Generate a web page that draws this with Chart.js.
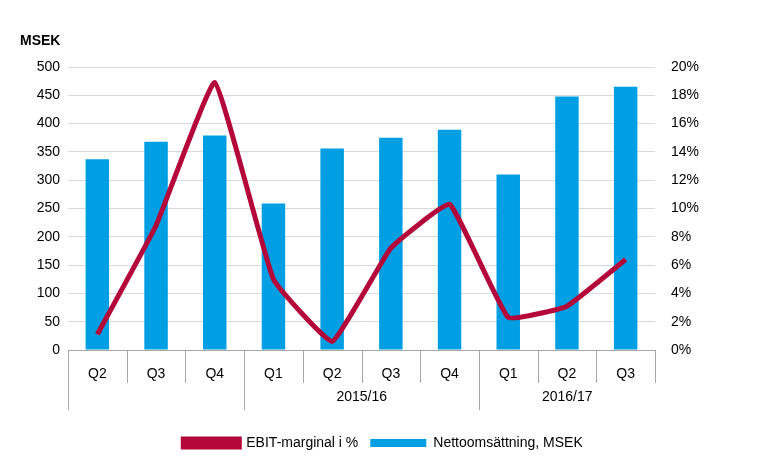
<!DOCTYPE html>
<html>
<head>
<meta charset="utf-8">
<script src="https://cdn.jsdelivr.net/npm/chart.js@4"></script>
<style>
  body { margin: 0; background: #fff; }
  #wrap { width: 776px; height: 464px; }
</style>
</head>
<body>
<div id="wrap"><canvas id="chart"></canvas></div>
<script>
Chart.defaults.font.family = "'Liberation Sans', Arial, sans-serif";
Chart.defaults.font.size = 14;
Chart.defaults.color = "#000";

const quarters = ["Q2", "Q3", "Q4", "Q1", "Q2", "Q3", "Q4", "Q1", "Q2", "Q3"];
const years = [
    { label: "", from: 0, to: 2 },
    { label: "2015/16", from: 3, to: 6 },
    { label: "2016/17", from: 7, to: 9 },
];
const netSales = [337, 368, 379, 259, 356, 375, 389, 310, 448, 465];
const ebitMargin = [1.1, 8.8, 18.9, 5.0, 0.6, 7.2, 10.3, 2.3, 3.1, 6.4];

const colors = {
    blue: "#009fe3",
    red: "#b5083a",
    grid: "#d9d9d9",
    axis: "#a6a6a6",
};

const groupAxis = {
    id: "groupAxis",
    afterDraw(chart) {
        const ctx = chart.ctx;
        const x = chart.scales.x;
        const top = chart.chartArea.bottom;
        const half = (x.getPixelForValue(1) - x.getPixelForValue(0)) / 2;
        ctx.save();
        ctx.strokeStyle = colors.axis;
        ctx.lineWidth = 1;
        for (let i = 0; i <= quarters.length; i++) {
            const px = Math.round(x.getPixelForValue(i) - half) + 0.5;
            ctx.beginPath();
            ctx.moveTo(px, top);
            ctx.lineTo(px, top + 33);
            ctx.stroke();
        }
        ctx.fillStyle = "#000";
        ctx.font = "14px 'Liberation Sans', Arial, sans-serif";
        ctx.textAlign = "center";
        ctx.textBaseline = "middle";
        years.forEach(g => {
            const x0 = Math.round(x.getPixelForValue(g.from) - half) + 0.5;
            const x1 = x.getPixelForValue(g.to) + half;
            ctx.beginPath();
            ctx.moveTo(x0, top + 33);
            ctx.lineTo(x0, top + 60);
            ctx.stroke();
            if (g.label) ctx.fillText(g.label, (x0 + x1) / 2, top + 47);
        });
        ctx.font = "bold 14px 'Liberation Sans', Arial, sans-serif";
        ctx.textAlign = "left";
        ctx.fillText("MSEK", 20, 41);
        ctx.restore();
    },
};

new Chart(document.getElementById("chart"), {
    data: {
        labels: quarters,
        datasets: [
            {
                type: "line",
                label: "EBIT-marginal i %",
                data: ebitMargin,
                yAxisID: "y1",
                borderColor: colors.red,
                backgroundColor: colors.red,
                borderWidth: 5,
                tension: 0.1,
                pointRadius: 0,
                order: 0,
            },
            {
                type: "bar",
                label: "Nettoomsättning, MSEK",
                data: netSales,
                yAxisID: "y",
                backgroundColor: colors.blue,
                categoryPercentage: 0.4,
                barPercentage: 1,
                order: 1,
            },
        ],
    },
    options: {
        responsive: true,
        maintainAspectRatio: false,
        animation: false,
        layout: { padding: { top: 67, right: 20, left: 10, bottom: 4 } },
        scales: {
            x: {
                grid: { display: false },
                border: { color: colors.axis },
                ticks: { padding: 8 },
                afterFit(scale) { scale.height = 74; },
            },
            y: {
                position: "left",
                min: 0, max: 500,
                ticks: { stepSize: 50, padding: 8 },
                grid: { color: colors.grid, drawTicks: false },
                border: { display: false },
                afterFit(scale) { scale.width = 58; },
            },
            y1: {
                position: "right",
                min: 0, max: 20,
                ticks: { stepSize: 2, padding: 16, callback: v => v + "%" },
                grid: { display: false, drawTicks: false },
                border: { display: false },
                afterFit(scale) { scale.width = 101; },
            },
        },
        plugins: {
            legend: {
                position: "bottom",
                labels: { boxWidth: 56, boxHeight: 8, padding: 12 },
            },
            tooltip: { enabled: false },
        },
    },
    plugins: [groupAxis],
});
</script>
</body>
</html>
